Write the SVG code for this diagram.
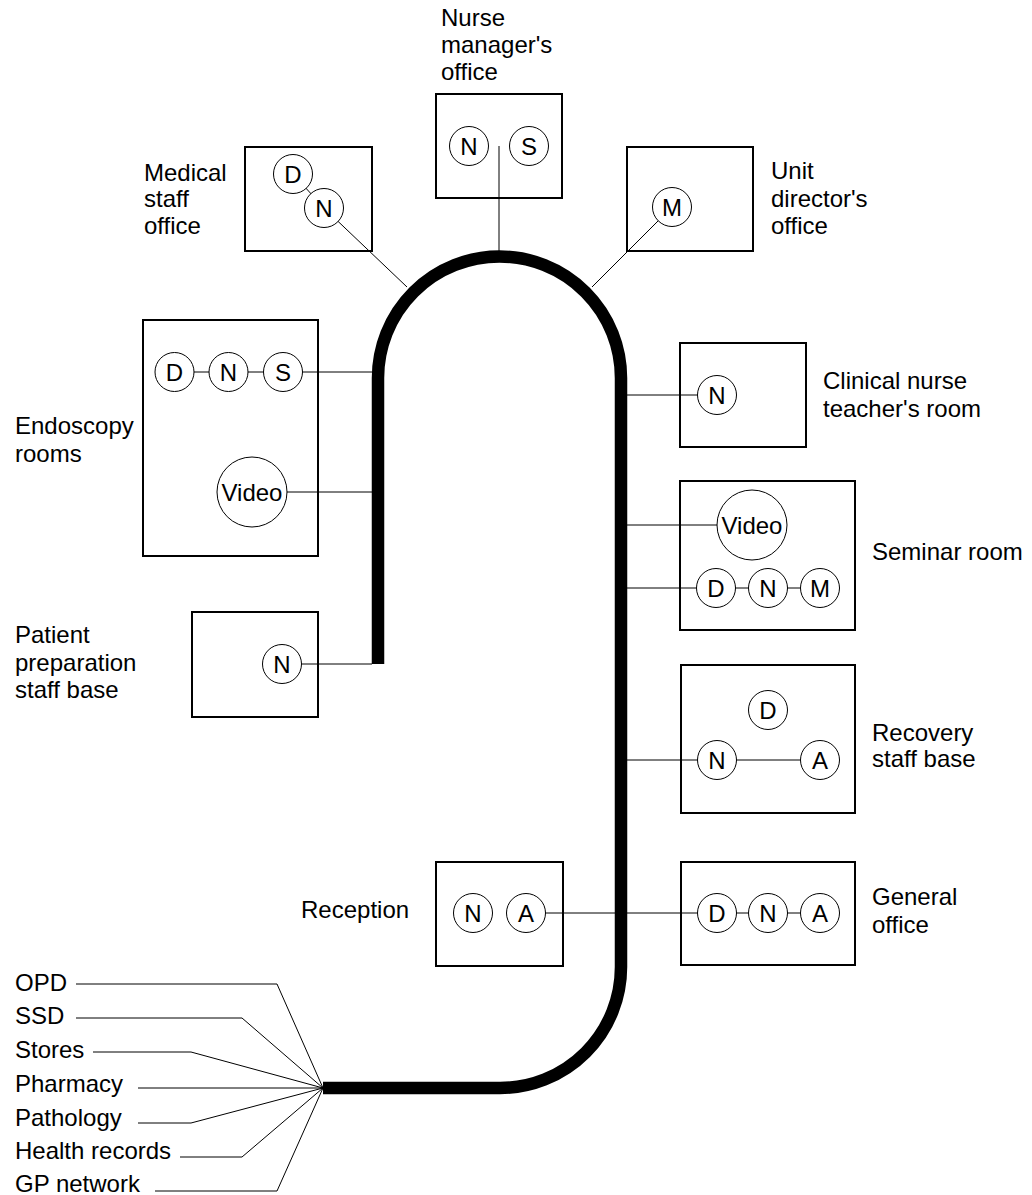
<svg xmlns="http://www.w3.org/2000/svg" width="1032" height="1195" viewBox="0 0 1032 1195">
<style>
.box{fill:none;stroke:#000;stroke-width:2}
.c{fill:#fff;stroke:#000;stroke-width:1}
.t{font-family:"Liberation Sans",Arial,Helvetica,sans-serif;font-size:24px;fill:#000}
.ct{text-anchor:middle}
.ln{stroke:#000;stroke-width:1;fill:none}
.cable{stroke:#000;stroke-width:12.5;fill:none}
</style>
<rect width="1032" height="1195" fill="#fff"/>
<g id="connectors">
<line class="ln" x1="293" y1="174" x2="324" y2="208"/>
<line class="ln" x1="324" y1="208" x2="407" y2="287"/>
<line class="ln" x1="499" y1="146" x2="499" y2="252"/>
<line class="ln" x1="672" y1="207" x2="592" y2="287"/>
<line class="ln" x1="174" y1="372" x2="372" y2="372"/>
<line class="ln" x1="252" y1="492" x2="372" y2="492"/>
<line class="ln" x1="282" y1="664" x2="372" y2="664"/>
<line class="ln" x1="627" y1="395" x2="717" y2="395"/>
<line class="ln" x1="627" y1="525" x2="752" y2="525"/>
<line class="ln" x1="627" y1="588" x2="820" y2="588"/>
<line class="ln" x1="627" y1="760" x2="820" y2="760"/>
<line class="ln" x1="526" y1="913" x2="820" y2="913"/>
<polyline class="ln" points="76,984 277,984 323,1088"/>
<polyline class="ln" points="76,1018 242,1018 323,1088"/>
<polyline class="ln" points="93,1052 191,1052 323,1088"/>
<polyline class="ln" points="138,1088 323,1088"/>
<polyline class="ln" points="138,1123 191,1123 323,1088"/>
<polyline class="ln" points="180,1157 242,1157 323,1088"/>
<polyline class="ln" points="155,1191 277,1191 323,1088"/>
<path class="cable" d="M378 664 L378 378 A121.5 121.5 0 0 1 621 378 L621 967 A121 121 0 0 1 500 1088 L323 1088"/>
</g>
<g id="medical-staff-office">
<rect class="box" x="245" y="147" width="127" height="104"/>
<circle class="c" cx="293" cy="174" r="19.5"/><text class="t ct" x="293" y="182.5">D</text>
<circle class="c" cx="324" cy="208" r="19.5"/><text class="t ct" x="324" y="216.5">N</text>
<text class="t" x="144" y="181">Medical</text>
<text class="t" x="144" y="207">staff</text>
<text class="t" x="144" y="234">office</text>
</g>
<g id="nurse-managers-office">
<rect class="box" x="436" y="94" width="126" height="104"/>
<circle class="c" cx="469" cy="146" r="19.5"/><text class="t ct" x="469" y="154.5">N</text>
<circle class="c" cx="529" cy="146" r="19.5"/><text class="t ct" x="529" y="154.5">S</text>
<text class="t" x="441" y="26">Nurse</text>
<text class="t" x="441" y="53">manager's</text>
<text class="t" x="441" y="80">office</text>
</g>
<g id="unit-directors-office">
<rect class="box" x="627" y="147" width="126" height="104"/>
<circle class="c" cx="672" cy="207" r="19.5"/><text class="t ct" x="672" y="215.5">M</text>
<text class="t" x="771" y="179">Unit</text>
<text class="t" x="771" y="207">director's</text>
<text class="t" x="771" y="234">office</text>
</g>
<g id="endoscopy-rooms">
<rect class="box" x="143" y="320" width="175" height="236"/>
<circle class="c" cx="174.5" cy="372" r="19.5"/><text class="t ct" x="174.5" y="380.5">D</text>
<circle class="c" cx="228.5" cy="372" r="19.5"/><text class="t ct" x="228.5" y="380.5">N</text>
<circle class="c" cx="283" cy="372" r="19.5"/><text class="t ct" x="283" y="380.5">S</text>
<circle class="c" cx="252" cy="492" r="35"/><text class="t ct" x="252" y="500.5">Video</text>
<text class="t" x="15" y="434">Endoscopy</text>
<text class="t" x="15" y="462">rooms</text>
</g>
<g id="patient-preparation">
<rect class="box" x="192" y="612" width="126" height="105"/>
<circle class="c" cx="282" cy="664" r="19.5"/><text class="t ct" x="282" y="672.5">N</text>
<text class="t" x="15" y="643">Patient</text>
<text class="t" x="15" y="671">preparation</text>
<text class="t" x="15" y="698">staff base</text>
</g>
<g id="clinical-nurse-teacher">
<rect class="box" x="680" y="343" width="126" height="104"/>
<circle class="c" cx="717" cy="395" r="19.5"/><text class="t ct" x="717" y="403.5">N</text>
<text class="t" x="823" y="389">Clinical nurse</text>
<text class="t" x="823" y="417">teacher's room</text>
</g>
<g id="seminar-room">
<rect class="box" x="680" y="481" width="175" height="149"/>
<circle class="c" cx="752" cy="525" r="35"/><text class="t ct" x="752" y="533.5">Video</text>
<circle class="c" cx="716" cy="588" r="19.5"/><text class="t ct" x="716" y="596.5">D</text>
<circle class="c" cx="768" cy="588" r="19.5"/><text class="t ct" x="768" y="596.5">N</text>
<circle class="c" cx="820" cy="588" r="19.5"/><text class="t ct" x="820" y="596.5">M</text>
<text class="t" x="872" y="560">Seminar room</text>
</g>
<g id="recovery-staff-base">
<rect class="box" x="681" y="665" width="174" height="148"/>
<circle class="c" cx="768" cy="710" r="19.5"/><text class="t ct" x="768" y="718.5">D</text>
<circle class="c" cx="717" cy="760" r="19.5"/><text class="t ct" x="717" y="768.5">N</text>
<circle class="c" cx="820" cy="760" r="19.5"/><text class="t ct" x="820" y="768.5">A</text>
<text class="t" x="872" y="741">Recovery</text>
<text class="t" x="872" y="767">staff base</text>
</g>
<g id="general-office">
<rect class="box" x="681" y="862" width="174" height="103"/>
<circle class="c" cx="717" cy="913" r="19.5"/><text class="t ct" x="717" y="921.5">D</text>
<circle class="c" cx="768" cy="913" r="19.5"/><text class="t ct" x="768" y="921.5">N</text>
<circle class="c" cx="820" cy="913" r="19.5"/><text class="t ct" x="820" y="921.5">A</text>
<text class="t" x="872" y="905">General</text>
<text class="t" x="872" y="933">office</text>
</g>
<g id="reception">
<rect class="box" x="436" y="862" width="127" height="104"/>
<circle class="c" cx="473" cy="913" r="19.5"/><text class="t ct" x="473" y="921.5">N</text>
<circle class="c" cx="526" cy="913" r="19.5"/><text class="t ct" x="526" y="921.5">A</text>
<text class="t" x="301" y="918">Reception</text>
</g>
<g id="external-links">
<text class="t" x="15" y="991">OPD</text>
<text class="t" x="15" y="1024">SSD</text>
<text class="t" x="15" y="1058">Stores</text>
<text class="t" x="15" y="1092">Pharmacy</text>
<text class="t" x="15" y="1126">Pathology</text>
<text class="t" x="15" y="1159">Health records</text>
<text class="t" x="15" y="1192">GP network</text>
</g>
</svg>
